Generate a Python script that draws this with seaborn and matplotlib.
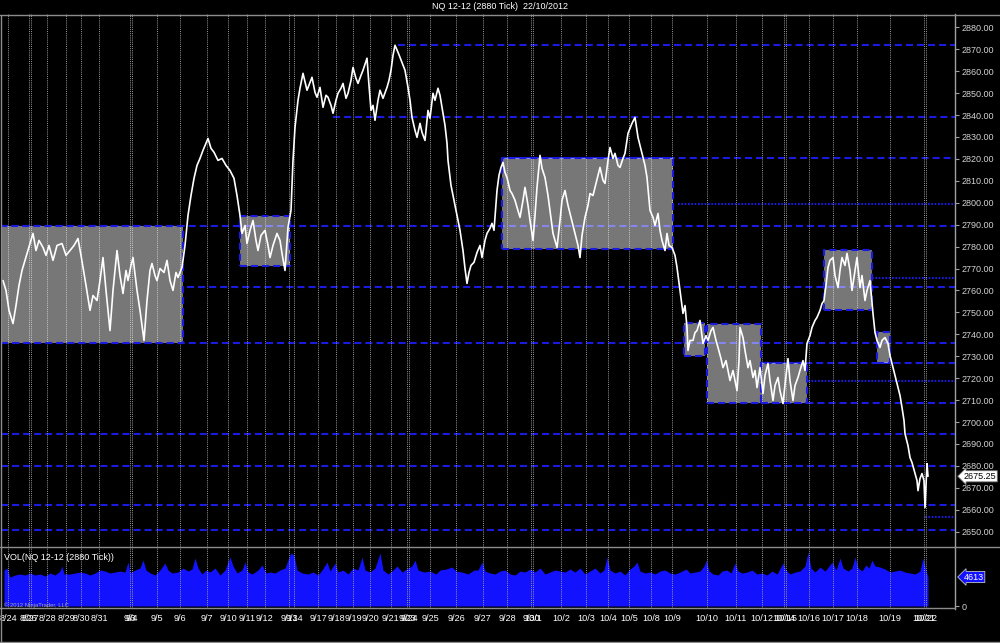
import matplotlib
matplotlib.use("Agg")
import matplotlib.pyplot as plt
import matplotlib.transforms as mtransforms
from matplotlib.lines import Line2D
import seaborn as sns

# ---- price series (bar number, close) ----
price_bar = [
    3, 6, 9, 13, 16, 19, 22, 25, 28, 31, 33, 36, 39, 43, 46, 49, 53, 57, 62, 66,
    70, 74, 78, 81, 83, 86, 90, 93, 97, 100, 103, 106, 110, 113, 117, 120, 123, 126, 128, 131,
    133, 137, 140, 142, 144, 147, 150, 152, 155, 157, 160, 164, 167, 170, 173, 176, 178, 182,
    185, 188, 191, 194, 197, 200, 203, 206, 208, 211, 214, 218, 222, 226, 230, 234, 237, 240,
    242, 245, 247, 250, 253, 256, 258, 261, 265, 268, 270, 273, 277, 280, 282, 285, 288, 291,
    293, 295, 298, 300, 303, 307, 310, 312, 315, 317, 320, 323, 326, 328, 331, 333, 336, 338,
    341, 343, 346, 348, 351, 353, 356, 358, 361, 363, 367, 369, 371, 373, 375, 378, 380, 383,
    387, 389, 391, 393, 395, 398, 400, 403, 405, 408, 410, 412, 415, 417, 420, 422, 425, 428,
    430, 433, 435, 438, 440, 442, 445, 447, 448,
    451, 454, 457, 460, 463, 465, 467, 469, 471, 474, 477, 480, 482, 485, 487, 490, 492, 494,
    497, 499, 501, 503, 505, 507, 510, 512, 515, 517, 520, 523, 525, 528, 530, 532, 533, 535,
    537, 540, 542, 545, 548, 550, 553, 555, 557, 560, 562, 565, 568, 570, 573, 575, 578, 580,
    582, 585, 588, 590, 593, 595, 598, 600, 603, 605, 608, 610, 613, 615, 618, 620, 623, 625,
    628, 630, 632, 635, 637, 638, 640, 642, 645, 647, 650, 653, 655, 658, 660, 662, 665, 667,
    669, 672, 675, 677, 680, 683, 685, 687, 688, 690, 693, 695, 697, 700, 702, 703, 706, 708,
    711, 713, 716, 718, 721, 723, 726, 730, 733, 737, 739, 740, 743, 745, 748, 750, 753, 755,
    757, 760, 763, 765, 768, 770, 773, 775, 778, 780, 783, 786, 788, 790, 793, 795, 798, 800,
    803, 805, 807, 810, 812, 815, 817, 820, 822, 824, 826, 828, 830, 833, 835, 838, 840, 842,
    845, 847, 850, 852, 855, 857, 860, 862, 865, 867, 870, 873, 875, 877, 880, 882, 885, 888,
    890, 892, 895, 897, 900, 902, 904, 905, 908, 910, 912, 915, 917, 918, 920, 922, 924, 925,
    927, 928,
]
price_close = [
    2764.5, 2760.0, 2750.9, 2744.9, 2753.1, 2762.3, 2769.1, 2773.7, 2778.2, 2782.8, 2786.0, 2778.2,
    2782.8, 2779.6, 2776.0, 2780.5, 2773.7, 2780.5, 2781.4, 2776.0,
    2778.2, 2780.5, 2783.7, 2776.0, 2770.5, 2762.3, 2750.9, 2757.7, 2755.4, 2764.5, 2775.0, 2760.0,
    2741.7, 2760.0, 2778.2, 2766.8, 2758.6, 2769.1, 2764.5, 2771.4,
    2775.0, 2760.0, 2750.9, 2744.0, 2737.2, 2755.4, 2769.1, 2772.3, 2766.8, 2764.5, 2770.0, 2768.2,
    2773.7, 2764.5, 2760.0, 2768.2, 2765.9, 2770.5,
    2780.5, 2794.2, 2803.3, 2811.1, 2817.0, 2820.2, 2823.9, 2827.1, 2829.3, 2824.8, 2823.0, 2819.3,
    2820.2, 2817.0, 2814.7, 2811.1, 2803.3, 2794.2,
    2786.0, 2789.6, 2781.4, 2787.4, 2791.9, 2782.8, 2778.2, 2785.1, 2787.4, 2780.5, 2775.0, 2780.5,
    2786.0, 2782.8, 2776.9, 2769.1, 2788.7, 2796.5,
    2819.3, 2834.4, 2846.7, 2852.2, 2859.0, 2851.3, 2854.9, 2857.2, 2850.3, 2848.1, 2852.6, 2843.5,
    2849.0, 2848.1, 2844.4, 2840.8, 2846.7, 2849.9,
    2852.2, 2854.4, 2847.6, 2849.9, 2855.8, 2861.7, 2856.7, 2854.4, 2858.1, 2860.4, 2865.9, 2853.5,
    2842.1, 2844.4, 2837.6, 2846.7, 2851.3, 2847.6,
    2852.6, 2855.8, 2860.4, 2867.2, 2871.8, 2868.6, 2866.3, 2862.7, 2860.4, 2852.6, 2846.7, 2838.9,
    2833.0, 2829.8, 2836.2, 2832.1, 2828.4, 2842.1,
    2838.5, 2849.9, 2846.7, 2852.2, 2849.0, 2843.5, 2835.3, 2827.1, 2819.3,
    2807.9, 2801.1, 2794.2, 2787.4, 2778.2, 2770.0, 2763.2, 2768.2, 2771.4, 2772.8, 2777.3, 2780.5,
    2775.0, 2782.8, 2786.0, 2788.3, 2790.6, 2787.4,
    2805.6, 2812.5, 2816.1, 2818.4, 2813.8, 2811.5, 2805.6, 2804.2, 2801.1, 2797.9, 2793.3, 2801.1,
    2807.0, 2798.8, 2791.9, 2786.0, 2782.8, 2794.2,
    2807.0, 2821.6, 2815.7, 2811.5, 2803.3, 2796.5, 2786.0, 2782.8, 2779.6, 2791.9, 2801.1, 2805.6,
    2798.8, 2795.1, 2789.6, 2786.0, 2780.5, 2775.0,
    2785.1, 2793.3, 2798.8, 2804.2, 2803.3, 2807.0, 2812.5, 2816.1, 2810.2, 2808.8, 2819.3, 2825.2,
    2820.2, 2822.5, 2817.0, 2816.1, 2820.2, 2822.5,
    2831.6, 2833.9, 2836.2, 2838.9, 2833.0, 2829.8, 2826.2, 2822.5, 2817.0, 2811.5, 2796.5, 2793.3,
    2789.6, 2795.1, 2787.4, 2782.8, 2778.2, 2786.0,
    2780.5, 2779.6, 2776.0, 2770.5, 2760.0, 2749.5, 2753.1, 2743.1, 2732.6, 2737.2, 2737.2, 2740.8,
    2741.7, 2746.3, 2739.4, 2735.8, 2739.4, 2737.2,
    2741.7, 2743.1, 2737.2, 2734.0, 2728.9, 2724.8, 2728.0, 2718.9, 2723.5, 2714.3, 2728.0, 2743.1,
    2738.5, 2732.6, 2724.8, 2728.0, 2720.3, 2723.5,
    2715.7, 2724.8, 2713.0, 2721.2, 2726.7, 2718.9, 2709.8, 2716.6, 2720.3, 2714.3, 2708.4, 2721.2,
    2728.9, 2718.9, 2709.8, 2716.6, 2720.3, 2723.5,
    2728.0, 2723.5, 2735.8, 2739.4, 2743.1, 2746.3, 2747.7, 2750.9, 2754.0, 2755.4, 2762.3, 2770.5,
    2773.7, 2775.0, 2766.8, 2761.3, 2769.1, 2775.0,
    2771.4, 2776.9, 2769.1, 2760.0, 2769.1, 2775.0, 2761.3, 2766.8, 2755.4, 2760.0, 2764.5, 2749.5,
    2740.8, 2737.2, 2734.0, 2737.2, 2738.5, 2735.8,
    2730.3, 2726.7, 2721.2, 2717.5, 2712.1, 2706.6, 2700.7, 2694.7, 2689.2, 2683.8, 2681.5, 2676.5,
    2673.3, 2668.7, 2674.2, 2676.5, 2673.3, 2661.0,
    2681.0, 2675.25,
]

# ---- volume (bar number, contracts) ----
vol_bar = [
    4, 7, 10, 15, 20, 25, 30, 35, 40, 45, 50, 55, 60, 62, 64, 70, 75, 80, 85, 90,
    95, 100, 105, 110, 115, 120, 125, 128, 130, 135, 140, 143, 146, 150, 155, 160, 165, 168, 172, 178,
    183, 188, 192, 195, 198, 202, 206, 210, 215, 220, 225, 230, 233, 237, 242, 245, 248, 252, 258, 262,
    266, 270, 275, 280, 285, 289, 291, 294, 297, 302, 308, 313, 318, 322, 327, 330, 335, 338, 343, 348,
    353, 358, 362, 365, 370, 375, 380, 383, 388, 393, 397, 402, 408, 412, 415, 418, 424, 430, 436, 440,
    446, 452, 456, 462, 468, 474, 478, 482, 485, 490, 495, 500, 505, 510, 515, 520, 525, 530, 535, 540,
    545, 550, 555, 560, 565, 570, 575, 580, 585, 590, 595, 600, 604, 607, 610, 615, 620, 625, 630, 634,
    637, 640, 645, 650, 655, 660, 665, 670, 675, 680, 686, 690, 695, 700, 704, 706, 709, 713, 718, 722,
    727, 731, 735, 738, 742, 747, 752, 757, 762, 767, 772, 777, 783, 786, 790, 795, 800, 805, 808, 811,
    815, 820, 825, 829, 832, 836, 840, 843, 848, 852, 855, 858, 862, 866, 869, 872, 875, 880, 885, 890,
    895, 900, 905, 910, 915, 920, 923, 926, 928,
]
vol = [
    5700, 6050, 4600, 4930, 5090, 4930, 5250, 4930, 5090, 4770, 5250, 4930, 5560, 6360, 5090, 5090, 5250, 5400, 5250, 4930,
    5250, 5720, 5560, 5250, 5400, 5560, 5400, 7000, 5250, 5720, 6040, 7310, 5720, 5250, 4930, 5720, 6840, 5720, 5250, 5400,
    6040, 5560, 5880, 7630, 6040, 5090, 5720, 5400, 6040, 4930, 5720, 7790, 6360, 5250, 5720, 7000, 5400, 5090, 5720, 6520,
    5250, 5400, 5250, 5720, 6040, 7790, 8430, 8110, 5720, 5250, 5090, 5400, 4930, 5720, 7000, 5560, 6840, 5400, 5720, 5090,
    6040, 5720, 7790, 5720, 5400, 6040, 8430, 5720, 5090, 5720, 6360, 5400, 6040, 6360, 7310, 5720, 5400, 5560, 5090, 5720,
    5880, 6200, 5560, 5400, 5090, 5720, 5720, 7000, 5560, 5250, 5090, 5560, 5720, 5090, 4930, 5560, 5400, 5880, 5400, 6040,
    5090, 5400, 5720, 5560, 5400, 5880, 5400, 6040, 5090, 5560, 6040, 5250, 5720, 7790, 5720, 5250, 5560, 4930, 5880, 6360,
    7000, 5560, 5250, 5400, 5090, 5560, 5720, 5250, 5090, 5400, 5880, 5250, 5400, 5560, 6360, 7310, 5560, 5090, 4930, 5560,
    5720, 5250, 6840, 5560, 5250, 5400, 5720, 5090, 5250, 4930, 5560, 5090, 6840, 5720, 5090, 5400, 5560, 6360, 8590, 6040,
    5400, 6200, 5560, 6360, 7000, 5720, 7630, 6040, 5560, 6040, 7790, 6040, 5560, 6520, 6040, 7310, 6360, 6200, 5880, 5400,
    5560, 5720, 5400, 5250, 5090, 5560, 7630, 5720, 4613,
]

# ---- session separators and their labels ----
day_bar = [8, 29, 31, 47, 66, 81, 99, 130, 132, 157, 180, 207, 228, 247, 265, 289, 294, 318, 336, 353,
           370, 391, 407, 409, 430, 456, 483, 507, 531, 533, 561, 586, 608, 629, 651, 672, 707, 736, 762, 784,
           786, 809, 833, 857, 890, 924, 926]
day_label = ["8/24", "8/26", "8/27", "8/28", "8/29", "8/30", "8/31", "9/3", "9/4", "9/5", "9/6", "9/7",
             "9/10", "9/11", "9/12", "9/13", "9/14", "9/17", "9/18", "9/19", "9/20", "9/21", "9/23", "9/24",
             "9/25", "9/26", "9/27", "9/28", "9/30", "10/1", "10/2", "10/3", "10/4", "10/5", "10/8", "10/9",
             "10/10", "10/11", "10/12", "10/14", "10/15", "10/16", "10/17", "10/18", "10/19", "10/21", "10/22"]

# ---- drawn levels: price, first bar, style ----
level_price = [2872.0, 2839.25, 2820.25, 2799.25, 2789.5, 2765.5, 2761.5, 2736.25, 2727.0,
               2718.5, 2708.75, 2694.5, 2680.0, 2662.0, 2656.5, 2650.75]
level_start = [398, 333, 502, 678, 1, 872, 187, 1, 761, 808, 707, 1, 1, 1, 925, 1]
level_style = ["dash", "dash", "dash", "dot", "dash", "dot", "dash", "dash", "dash",
               "dot", "dash", "dash", "dash", "dash", "dot", "dash"]

# ---- consolidation boxes ----
box_start = [1, 240, 502, 684, 707, 761, 824, 877]
box_end = [183, 290, 673, 705, 761, 807, 872, 890]
box_low = [2736.25, 2771.0, 2779.0, 2730.25, 2708.75, 2708.75, 2751.25, 2727.0]
box_high = [2789.5, 2793.75, 2820.25, 2745.0, 2744.5, 2727.0, 2778.25, 2741.25]

BLUE = "#1a1ae0"
GRID = "#9a9a9a"
FRAME = "#8c8c8c"
DASH = (0, (3.4, 1.9))
DOT = (0, (0.8, 0.8))
H = 643.0


def fy(px):
    return 1 - px / H


sns.set_style("dark", {"axes.facecolor": "black", "figure.facecolor": "black"})
plt.rcParams["font.family"] = ["Liberation Sans", "DejaVu Sans"]

fig = plt.figure(figsize=(10, 6.43), dpi=100)
fig.patch.set_facecolor("black")

ax_p = fig.add_axes([0.001, fy(547), 0.954, (547 - 14) / H])
ax_v = fig.add_axes([0.001, fy(609), 0.954, (609 - 547) / H])

for ax in (ax_p, ax_v):
    ax.set_facecolor("black")
    for s in ("top", "left", "bottom"):
        ax.spines[s].set_visible(False)
    ax.spines["right"].set_color("#a0a0a0")
    ax.spines["right"].set_linewidth(1.0)
    for d in day_bar:
        ax.axvline(d, color=GRID, lw=0.7, ls=(0, (1, 1.2)), zorder=3)
    ax.set_xlim(1, 955)
    ax.yaxis.tick_right()
    ax.tick_params(axis="y", right=True, left=False, colors="#a0a0a0", labelcolor="#d2d2d2",
                   length=3, width=0.8, pad=1.5, labelsize=6.5, direction="out")

# horizontal levels
for p, x0, st in zip(level_price, level_start, level_style):
    ax_p.hlines(p, x0, 955, colors=BLUE, lw=1.5, linestyles=DASH if st == "dash" else DOT, zorder=2)

# boxes
for x0, x1, lo, hi in zip(box_start, box_end, box_low, box_high):
    ax_p.fill_between([x0, x1], [lo, lo], [hi, hi], color="white", alpha=0.47, lw=0, zorder=4)
    ax_p.plot([x0, x1, x1, x0, x0], [lo, lo, hi, hi, lo], color=BLUE, lw=1.5, ls=DASH, zorder=5)

sns.lineplot(x=price_bar, y=price_close, ax=ax_p, color="white", lw=1.2,
             estimator=None, sort=False, legend=False, zorder=6)

ax_p.set_ylim(2643.0, 2886.06)
ax_p.set_yticks(range(2650, 2881, 10))
ax_p.set_yticklabels([f"{v:.2f}" for v in range(2650, 2881, 10)])
ax_p.tick_params(axis="x", bottom=False, labelbottom=False)
ax_p.set_xlabel("")
ax_p.set_ylabel("")

# volume panel
ax_v.fill_between(vol_bar, vol, 0, color="#1212ff", lw=0, zorder=2)
ax_v.set_ylim(-477, 9385)
ax_v.set_yticks([0])
ax_v.set_yticklabels(["0"])
ax_v.set_xticks(day_bar)
ax_v.set_xticklabels(day_label)
ax_v.tick_params(axis="x", bottom=False, length=0, pad=3.5, labelsize=6.6, labelcolor="white")

# last value flags
tr_p = mtransforms.blended_transform_factory(ax_p.transAxes, ax_p.transData)
ax_p.text(1.009, price_close[-1], f"{price_close[-1]:.2f}", transform=tr_p, ha="left", va="center",
          fontsize=6.5, color="black", clip_on=False,
          bbox=dict(boxstyle="larrow,pad=0.12", fc="white", ec="#707070", lw=0.6))
tr_v = mtransforms.blended_transform_factory(ax_v.transAxes, ax_v.transData)
ax_v.text(1.009, vol[-1], f"{vol[-1]}", transform=tr_v, ha="left", va="center",
          fontsize=6.5, color="white", clip_on=False,
          bbox=dict(boxstyle="larrow,pad=0.12", fc="#1212ff", ec="#c0c0c0", lw=0.6))

# panel frame
for y in (14.5, 547, 642):
    fig.add_artist(Line2D([0, 1], [fy(y), fy(y)], color=FRAME, lw=1.0))
fig.add_artist(Line2D([0.0006, 0.0006], [fy(14.5), fy(642)], color=FRAME, lw=1.0))
fig.add_artist(Line2D([0, 0.955], [fy(608), fy(608)], color=FRAME, lw=1.0))

fig.text(0.5, fy(6.5), "NQ 12-12 (2880 Tick)  22/10/2012", color="white", fontsize=6.5,
         ha="center", va="center")
fig.text(0.004, fy(557), "VOL(NQ 12-12 (2880 Tick))", color="white", fontsize=6.5, va="center")
fig.text(0.004, fy(605.5), "\u00a9 2012 NinjaTrader, LLC", color="#a8a8a8", fontsize=4.2, va="center")

fig.savefig("out.png", dpi=100, facecolor="black")
